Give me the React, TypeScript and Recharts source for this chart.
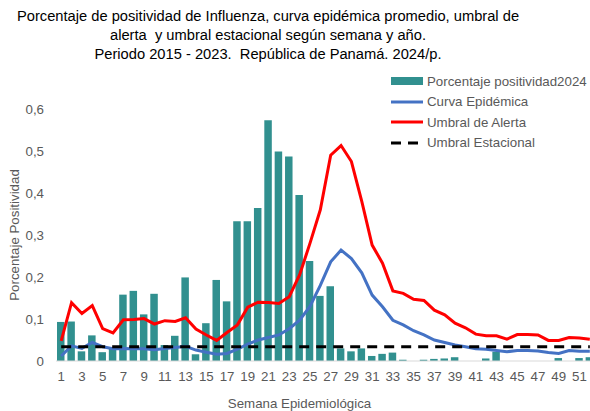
import React from 'react';
import { Bar, ComposedChart, Legend, Line, XAxis, YAxis } from 'recharts';

// semanas epidemiológicas 1..52
const weeks = [
    1, 2, 3, 4, 5, 6, 7, 8, 9, 10, 11, 12, 13, 14, 15, 16, 17, 18, 19, 20, 21, 22, 23, 24, 25, 26,
    27, 28, 29, 30, 31, 32, 33, 34, 35, 36, 37, 38, 39, 40, 41, 42, 43, 44, 45, 46, 47, 48, 49, 50, 51, 52,
];

const positividad2024 = [
    0.093, 0.094, 0.023, 0.061, 0.021, 0.03, 0.158, 0.167, 0.111, 0.16, 0.038, 0.06, 0.199,
    0.016, 0.09, 0.193, 0.142, 0.333, 0.333, 0.364, 0.573, 0.499, 0.487, 0.395, 0.238, 0.155,
    0.178, 0.03, 0.023, 0.03, 0.012, 0.017, 0.02, 0.003, null, 0.003, 0.005, 0.006, 0.009,
    null, null, 0.006, 0.022, null, null, null, null, null, 0.007, null, 0.007, 0.009,
];

const curvaEpidemica = [
    0.012, 0.036, 0.03, 0.044, 0.034, 0.029, 0.03, 0.029, 0.029, 0.027, 0.03, 0.032, 0.035,
    0.026, 0.021, 0.016, 0.018, 0.028, 0.04, 0.05, 0.056, 0.062, 0.077, 0.097, 0.13, 0.18,
    0.236, 0.264, 0.244, 0.21, 0.157, 0.129, 0.097, 0.086, 0.072, 0.062, 0.05, 0.044, 0.038,
    0.034, 0.029, 0.028, 0.025, 0.022, 0.025, 0.025, 0.024, 0.02, 0.018, 0.025, 0.023, 0.023,
];

const umbralAlerta = [
    0.048, 0.139, 0.113, 0.132, 0.077, 0.067, 0.098, 0.099, 0.101, 0.088, 0.096, 0.094, 0.103,
    0.076, 0.062, 0.049, 0.068, 0.086, 0.128, 0.14, 0.139, 0.137, 0.153, 0.205, 0.28, 0.36,
    0.49, 0.513, 0.475, 0.38, 0.276, 0.233, 0.167, 0.161, 0.147, 0.144, 0.121, 0.11, 0.09,
    0.079, 0.064, 0.06, 0.06, 0.052, 0.063, 0.063, 0.062, 0.049, 0.049, 0.056, 0.055, 0.052,
];

const umbralEstacional = 0.034;

const yTicks = [0, 0.1, 0.2, 0.3, 0.4, 0.5, 0.6];

const seriesNames = ['Porcentaje positividad2024', 'Curva Epidémica', 'Umbral de Alerta', 'Umbral Estacional'];

const data = weeks.map((w, i) => ({
    semana: w,
    positividad: positividad2024[i],
    curva: curvaEpidemica[i],
    alerta: umbralAlerta[i],
    estacional: umbralEstacional,
}));

const FONT = '"Liberation Sans", Arial, sans-serif';
const GREY = '#595959';

const fmtTick = (v: number) => (v === 0 ? '0' : v.toFixed(1).replace('.', ','));

const LegendContent = (props: any) => {
    const payload = [...(props.payload || [])].sort(
        (a: any, b: any) => seriesNames.indexOf(a.value) - seriesNames.indexOf(b.value),
    );
    return (
        <div style={{ fontFamily: FONT, fontSize: 13.3, color: GREY }}>
            {payload.map((entry: any) => (
                <div key={entry.value} style={{ display: 'flex', alignItems: 'center', height: 20.5 }}>
                    <svg width={32} height={10} style={{ marginRight: 4 }}>
                        {entry.type === 'rect' ? (
                            <rect x={0} y={1} width={32} height={8} fill={entry.color} />
                        ) : (
                            <line
                                x1={0}
                                y1={5}
                                x2={32}
                                y2={5}
                                stroke={entry.color}
                                strokeWidth={3}
                                strokeDasharray={entry.payload?.strokeDasharray}
                            />
                        )}
                    </svg>
                    <span>{entry.value}</span>
                </div>
            ))}
        </div>
    );
};

const App: React.FC = () => {
    return (
        <div style={{ position: 'absolute', left: 0, top: 0, width: 590, height: 411, overflow: 'hidden', background: '#fff' }}>
            <div
                style={{
                    position: 'absolute',
                    left: 0,
                    top: 7,
                    width: 536,
                    textAlign: 'center',
                    fontFamily: FONT,
                    fontSize: 14.7,
                    lineHeight: '19px',
                    color: '#000',
                    zIndex: 2,
                }}
            >
                Porcentaje de positividad de Influenza, curva epidémica promedio, umbral de
                <br />
                alerta&nbsp; y umbral estacional según semana y año.
                <br />
                Periodo 2015 - 2023.&nbsp; República de Panamá. 2024/p.
            </div>
            <ComposedChart
                width={600}
                height={411}
                data={data}
                margin={{ top: 109, right: 5, bottom: 0, left: 0 }}
                style={{ fontFamily: FONT }}
            >
                <XAxis
                    dataKey="semana"
                    interval={1}
                    height={50}
                    tickLine={false}
                    tickSize={5}
                    tickMargin={6}
                    axisLine={{ stroke: '#D9D9D9' }}
                    tick={{ fill: GREY, fontSize: 13.3 }}
                    label={{ value: 'Semana Epidemiológica', position: 'insideBottom', offset: 3, dx: -26, fill: GREY, fontSize: 13.3 }}
                />
                <YAxis
                    width={56}
                    domain={[0, 0.6]}
                    ticks={yTicks}
                    tickFormatter={fmtTick}
                    axisLine={false}
                    tickLine={false}
                    tickSize={6}
                    tickMargin={6}
                    tick={{ fill: GREY, fontSize: 13.3 }}
                    label={{
                        value: 'Porcentaje Positividad',
                        angle: -90,
                        position: 'insideLeft',
                        offset: 14,
                        fill: GREY,
                        fontSize: 13.3,
                        style: { textAnchor: 'middle' },
                    }}
                />
                <Legend
                    layout="vertical"
                    align="center"
                    verticalAlign="middle"
                    wrapperStyle={{ top: 71, left: 391, width: 200 }}
                    content={<LegendContent />}
                />
                <Bar
                    dataKey="positividad"
                    name={seriesNames[0]}
                    fill="#31908F"
                    barSize={7.5}
                    legendType="rect"
                    isAnimationActive={false}
                />
                <Line
                    dataKey="curva"
                    name={seriesNames[1]}
                    type="linear"
                    stroke="#4472C4"
                    strokeWidth={3}
                    dot={false}
                    activeDot={false}
                    legendType="line"
                    isAnimationActive={false}
                />
                <Line
                    dataKey="alerta"
                    name={seriesNames[2]}
                    type="linear"
                    stroke="#FF0000"
                    strokeWidth={3}
                    dot={false}
                    activeDot={false}
                    legendType="line"
                    isAnimationActive={false}
                />
                <Line
                    dataKey="estacional"
                    name={seriesNames[3]}
                    type="linear"
                    stroke="#000000"
                    strokeWidth={3}
                    strokeDasharray="10 7"
                    dot={false}
                    activeDot={false}
                    legendType="line"
                    isAnimationActive={false}
                />
            </ComposedChart>
        </div>
    );
};

export default App;
